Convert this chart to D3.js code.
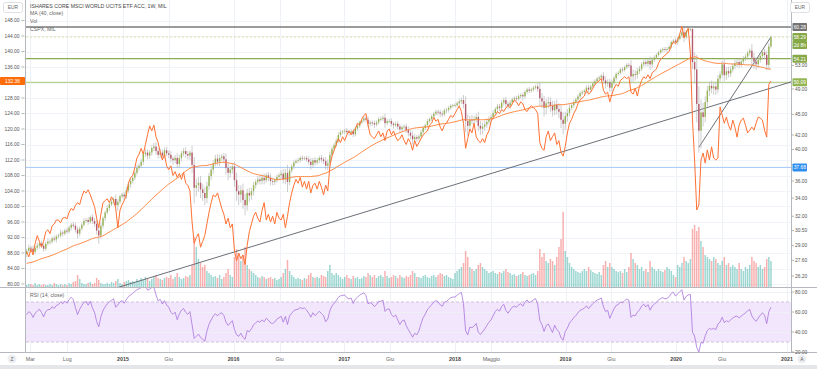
<!DOCTYPE html>
<html><head><meta charset="utf-8">
<script src="https://cdn.jsdelivr.net/npm/d3@7"></script>
<style>
html,body{margin:0;padding:0;background:#fff;}
svg{display:block;font-family:"Liberation Sans",Arial,sans-serif;}
</style></head>
<body><svg id="chart" width="817" height="369"></svg>
<script>
// ---------------- DATA ----------------
const firstWeek = "2014-02-17";
// weekly closes before the visible range (used only for MA(40) / RSI(14) warm-up)
const warmupCloses = [27.2,27.4,27.0, 26.4,26.2,25.9,25.7, 26.0,26.5,26.8,26.9,26.7, 26.8,26.9,26.3,26.1,
  26.4,26.9,27.3,27.2,26.9, 26.7,27.2,27.7,27.9, 27.8,28.1,28.2,28.4, 28.0,27.8,28.2,28.6,28.7, 28.5,28.7,28.6,27.8, 27.6,28.2];
// ISHARES CORE MSCI WORLD UCITS ETF ACC, 1W, MIL — weekly closes (EUR)
const closes = [
  28.5,28.8, 28.7,28.4,28.8,29.0,29.2, 29.0,28.7,29.2,29.4, 29.4,29.7,29.6,29.9, 30.0,30.3,30.2,30.5,30.4, 30.8,31.1,31.0,30.6,
  30.2,30.7,31.1,31.5, 31.6,31.4,31.9,31.5,31.2, 30.5,30.0,31.0,31.8, 32.4,32.9,33.3,33.6, 33.9,33.2,33.6,34.2,34.4,
  34.2,34.9,35.6,36.0, 36.4,37.0,37.6,37.9, 38.4,39.4,39.6,39.2,39.6, 40.2,40.4,39.8,39.3, 39.6,39.2,39.9,39.5, 39.3,38.8,38.6,38.9,38.1,
  38.9,39.5,39.8,39.4, 39.2,39.6,38.0,35.2,35.5, 35.8,35.0,34.6,34.0, 35.4,36.6,37.4,38.2, 38.8,38.4,38.9,39.1,38.7, 37.6,37.0,37.4,37.8,
  36.1,34.8,34.4,34.9, 33.8,33.2,34.6,34.3,34.8, 35.5,35.9,36.2,36.0, 36.4,36.1,36.7,36.4, 36.0,35.9,36.1,36.5,36.7, 36.9,36.2,37.0,35.9,
  37.3,37.8,38.3,38.5, 38.6,38.9,38.8,38.9,38.7, 38.4,38.0,38.6,38.3, 38.6,38.9,38.7,38.5,37.9, 38.2,39.3,40.1,40.6, 41.2,42.0,42.4,42.5,
  42.6,42.4,42.3,42.5,42.1, 42.9,43.3,43.8,44.1, 44.4,44.2,43.6,43.8, 43.7,43.5,43.8,44.3, 44.3,44.5,43.7,44.0,44.0, 43.6,43.4,43.6,43.2,
  42.8,43.1,43.2,42.7,42.3, 41.9,41.4,41.7,41.5, 41.8,42.4,43.0,43.4, 44.0,44.3,44.7,45.1,45.4, 45.3,45.1,45.0,45.6, 45.7,46.0,46.3,46.4,
  46.4,46.7,47.0,47.2,46.6, 44.0,43.3,44.2,44.1, 44.3,44.6,43.3,42.9, 43.2,43.5,43.9,44.3,44.6, 45.2,45.8,46.2,46.0, 46.8,47.2,46.6,46.3,
  46.8,47.3,47.5,47.4,47.8, 48.0,47.8,48.5,48.9, 48.7,48.9,49.2,49.4, 49.0,47.5,47.0,46.0,46.7, 46.9,46.3,45.6,46.5, 45.8,45.4,44.2,43.6,44.7,
  45.2,46.0,46.4,46.9, 47.3,47.8,48.3,48.5, 48.7,49.2,48.9,49.4, 49.9,50.3,50.7,50.9,51.2, 50.4,49.9,50.1,49.2, 50.0,50.8,51.5,51.7,
  52.3,52.2,52.7,53.1,53.0, 51.1,51.5,51.4,52.0, 52.4,53.2,53.6,53.3,53.8, 53.2,54.0,54.4,54.9, 55.4,55.8,56.0,55.9, 56.0,56.4,57.3,57.6,57.3,
  57.9,58.6,59.2,58.3, 59.3,59.8,59.9,53.6, 52.3,46.6,42.6,45.3,44.6, 46.9,48.7,49.5,49.1, 49.4,48.9,50.7,51.4, 53.2,51.3,52.0,51.6,52.3,
  52.9,53.4,53.6,53.1, 53.7,54.2,54.6,55.3,55.7, 54.4,53.7,53.2,54.0, 54.7,55.4,54.9,53.1, 56.5,58.29
];
// upper / lower wick beyond the candle body (EUR)
const wickHi = [
  0.2,0.3, 0.2,0.3,0.2,0.3,0.2, 0.3,0.2,0.2,0.3, 0.2,0.2,0.3,0.2, 0.2,0.3,0.2,0.2,0.3, 0.2,0.2,0.3,0.3, 0.3,0.2,0.2,0.3, 0.2,0.3,0.2,0.3,0.3, 0.4,0.3,0.3,0.2, 0.2,0.3,0.2,0.3, 0.2,0.5,0.3,0.2,0.2,
  0.3,0.4,0.3,0.3, 0.3,0.3,0.4,0.3, 0.4,0.3,0.5,0.4,0.3, 0.4,0.5,0.6,0.4, 0.5,0.4,0.4,0.5, 0.4,0.5,0.3,0.4,0.6, 0.4,0.3,0.4,0.5, 0.4,0.3,0.9,1.0,0.8, 0.7,0.8,0.6,0.7, 0.5,0.4,0.5,0.4, 0.5,0.6,0.4,0.3,0.4, 0.8,0.6,0.5,0.4,
  0.6,0.9,0.7,0.6, 0.8,0.7,0.5,0.6,0.4, 0.4,0.3,0.4,0.4, 0.4,0.5,0.3,0.4, 0.5,0.4,0.3,0.3,0.3, 0.4,0.6,0.5,1.0, 0.3,0.3,0.3,0.2, 0.3,0.2,0.3,0.2,0.3, 0.4,0.5,0.3,0.4, 0.3,0.3,0.4,0.3,0.5, 0.5,0.4,0.3,0.3, 0.3,0.4,0.3,0.2,
  0.3,0.4,0.3,0.3,0.4, 0.3,0.3,0.2,0.3, 0.3,0.4,0.5,0.3, 0.3,0.4,0.3,0.3, 0.4,0.3,0.6,0.3,0.3, 0.4,0.3,0.3,0.4, 0.4,0.3,0.3,0.4,0.5, 0.4,0.6,0.4,0.3, 0.3,0.3,0.3,0.2, 0.3,0.2,0.3,0.3,0.3, 0.3,0.4,0.4,0.3, 0.3,0.3,0.3,0.2,
  0.3,0.3,0.4,0.4,0.8, 1.2,1.0,0.6,0.7, 0.5,0.5,0.8,0.7, 0.6,0.6,0.5,0.4,0.4, 0.4,0.3,0.4,0.4, 0.4,0.4,0.5,0.4, 0.4,0.3,0.3,0.4,0.3, 0.3,0.4,0.3,0.3, 0.4,0.3,0.3,0.3, 0.6,1.1,0.8,0.9,0.7, 0.8,0.7,0.8,0.6, 0.8,0.9,1.0,1.1,0.7,
  0.6,0.5,0.4,0.4, 0.3,0.3,0.3,0.3, 0.3,0.4,0.5,0.3, 0.3,0.3,0.3,0.3,0.3, 0.6,0.7,0.5,0.6, 0.5,0.4,0.3,0.3, 0.3,0.4,0.3,0.3,0.4, 1.0,0.8,0.7,0.6, 0.5,0.4,0.4,0.5,0.4, 0.8,0.5,0.4,0.3, 0.3,0.3,0.3,0.4, 0.4,0.3,0.3,0.3,0.4,
  0.4,0.3,0.3,0.9, 0.4,0.3,0.38,0.1, 1.8,2.6,2.8,2.0,1.5, 0.9,0.8,0.7,0.9, 0.7,0.8,0.6,0.6, 0.6,1.2,0.7,0.8,0.6, 0.5,0.6,0.5,0.6, 0.4,0.5,0.4,0.4,0.4, 1.2,0.9,0.8,0.7, 0.5,0.5,0.6,0.8, 0.6,0.3
];
const wickLo = [
  0.3,0.2, 0.3,0.3,0.2,0.2,0.3, 0.2,0.3,0.2,0.2, 0.3,0.2,0.2,0.3, 0.2,0.2,0.3,0.2,0.2, 0.2,0.3,0.2,0.3, 0.5,0.3,0.2,0.2, 0.2,0.3,0.2,0.3,0.3, 0.4,0.8,0.3,0.3, 0.3,0.2,0.3,0.2, 0.3,0.4,0.6,0.3,0.2,
  0.4,0.3,0.3,0.4, 0.3,0.3,0.3,0.3, 0.3,0.4,0.4,0.5,0.4, 0.4,0.4,0.5,0.5, 0.4,0.5,0.4,0.4, 0.4,0.5,0.6,0.4,0.5, 0.5,0.4,0.4,0.5, 0.5,0.6,1.0,1.8,1.0, 0.8,1.0,0.9,0.8, 0.6,0.5,0.5,0.5, 0.4,0.5,0.6,0.4,0.5, 0.8,0.9,0.6,0.5,
  0.8,1.1,1.2,0.9, 1.0,1.1,0.6,0.7,0.5, 0.5,0.4,0.3,0.4, 0.4,0.5,0.3,0.4, 0.5,0.4,0.4,0.3,0.3, 0.4,0.5,0.6,1.2, 0.4,0.3,0.3,0.2, 0.3,0.3,0.3,0.2,0.3, 0.4,0.6,0.4,0.4, 0.3,0.4,0.4,0.4,0.5, 0.6,0.5,0.3,0.3, 0.3,0.3,0.3,0.3,
  0.4,0.3,0.4,0.3,0.4, 0.3,0.3,0.3,0.2, 0.3,0.4,0.5,0.4, 0.4,0.5,0.3,0.3, 0.3,0.3,0.7,0.3,0.3, 0.4,0.5,0.3,0.4, 0.5,0.3,0.3,0.4,0.5, 0.5,0.7,0.4,0.4, 0.3,0.3,0.3,0.3, 0.3,0.3,0.3,0.4,0.3, 0.4,0.5,0.4,0.3, 0.4,0.4,0.3,0.3,
  0.3,0.3,0.3,0.4,0.7, 1.6,1.4,0.7,0.6, 0.6,0.5,0.8,0.9, 0.8,0.6,0.5,0.4,0.5, 0.4,0.4,0.4,0.5, 0.5,0.4,0.6,0.5, 0.4,0.3,0.4,0.4,0.3, 0.4,0.6,0.3,0.3, 0.4,0.3,0.3,0.3, 0.5,1.2,1.0,1.3,1.0, 0.8,1.0,0.9,0.7, 0.8,1.0,1.2,1.5,0.9,
  0.8,0.5,0.4,0.4, 0.3,0.3,0.4,0.3, 0.4,0.4,0.5,0.4, 0.3,0.3,0.3,0.3,0.3, 0.6,0.8,0.6,0.7, 0.6,0.4,0.4,0.3, 0.3,0.4,0.3,0.3,0.4, 1.2,0.9,1.0,0.7, 0.5,0.4,0.4,0.5,0.5, 1.0,0.6,0.4,0.3, 0.3,0.3,0.4,0.4, 0.6,0.3,0.3,0.3,0.4,
  0.5,0.3,0.4,1.0, 0.5,0.3,0.4,1.2, 2.4,2.8,3.0,2.5,1.4, 0.8,0.7,0.9,0.8, 1.0,0.9,0.6,0.5, 0.5,1.0,0.8,0.7,0.6, 0.5,0.6,0.7,0.6, 0.4,0.5,0.4,0.5,0.5, 1.5,1.3,1.0,0.7, 0.5,0.6,0.7,0.9, 0.8,0.4
];
// Vol (thousand shares, weekly)
const volumes = [
  2,3, 3,2,4,2,3, 2,3,2,2, 3,2,4,3, 2,3,2,3,2, 4,3,5,6, 12,8,4,3, 3,4,5,3,4, 9,7,4,3, 3,4,3,5, 4,6,8,4,3,
  5,6,7,5, 6,5,8,6, 9,7,10,8,6, 8,10,12,9, 8,7,9,10, 9,12,8,10,14, 10,8,9,11, 10,12,22,50,40, 28,24,20,22, 16,14,12,10, 11,9,12,8,10, 14,18,12,10,
  30,38,34,26, 32,40,22,18,16, 14,12,10,9, 11,10,8,9, 10,8,9,7,8, 10,14,18,27, 16,12,10,8, 9,8,7,9,8, 12,14,10,9, 10,9,12,11,10, 16,22,14,12, 14,12,10,8,
  10,12,9,8,11, 9,10,8,9, 11,10,14,12, 10,12,9,11, 12,10,16,11,9, 10,12,11,9, 12,10,9,11,10, 12,16,14,10, 10,9,11,12, 10,9,11,12,10, 12,14,13,11, 12,10,9,8,
  14,16,18,20,24, 36,30,20,18, 16,18,22,24, 20,18,16,14,15, 16,14,13,15, 14,16,18,15, 14,12,13,11,12, 13,15,12,11, 12,13,14,12, 16,38,30,34,26, 24,28,26,22, 30,40,48,75,36,
  30,24,20,18, 16,15,14,16, 18,16,20,17, 15,14,13,15,12, 22,26,20,24, 20,18,16,15, 16,14,18,15,20, 34,28,24,22, 18,20,16,18,15, 26,20,18,16, 18,16,15,17, 20,18,16,12,10,
  22,20,24,30, 26,24,28,58, 62,56,60,46,40, 32,30,28,26, 30,28,24,22, 26,30,22,24,20, 22,20,18,24, 18,16,20,18,22, 30,26,24,20, 22,18,20,28, 30,26
];
// CSPX, MIL — weekly closes (left scale)
const cspx = [
  88.3,87.0, 89.0,87.5,90.5,92.5,91.0, 89.5,91.0,93.5,94.0, 93.0,95.0,95.5,96.5, 96.5,95.8,97.0,97.2,96.8, 98.5,99.5,99.0,100.3,
  101.0,100.5,102.5,104.0, 103.5,104.3,103.0,101.5,100.0, 97.0,94.5,98.0,101.0, 101.5,102.0,101.0,102.5, 101.5,99.5,94.5,99.0,100.5,
  101.5,103.0,106.0,107.5, 108.0,110.0,112.5,113.5, 115.0,113.5,116.0,118.5,120.8, 119.5,121.0,118.0,116.5, 114.0,112.0,113.5,110.5,
  109.5,110.5,108.0,109.0,107.5, 108.5,107.0,108.8,106.0, 105.5,104.0,96.0,90.5,92.0, 93.0,89.5,91.0,92.5, 95.5,98.5,101.0,103.0,
  102.5,103.5,101.5,99.5,98.0, 95.5,97.0,94.5,95.5,
  88.5,86.0,88.0,86.5, 87.5,85.0,90.0,93.5,95.5, 97.5,98.5,97.0,96.0, 99.0,101.0,96.5,98.0, 96.0,97.5,95.5,98.5,97.0, 96.5,98.0,94.5,97.5,
  101.0,103.5,105.5,107.0, 106.0,107.5,105.0,106.5,104.5, 106.5,103.5,105.5,106.0, 104.5,106.5,105.0,103.0,105.5, 104.0,110.5,113.0,114.5, 116.0,117.5,116.5,118.0,
  117.0,118.5,119.5,118.5,119.5, 120.0,121.5,121.0,122.5, 123.5,124.0,121.0,118.5, 118.0,117.5,118.5,119.5, 118.0,119.0,117.0,119.5,120.0, 118.5,119.5,118.0,117.0,
  117.5,118.5,117.0,116.0,117.5, 116.5,114.5,117.0,115.5, 116.5,117.5,118.5,119.0, 119.5,121.0,121.5,123.0,122.0, 122.5,120.5,119.5,121.0, 121.5,122.5,123.5,123.0,
  124.0,125.0,126.0,124.5,121.5, 115.0,117.5,120.0,119.0, 121.5,118.0,117.0,116.5, 117.5,116.5,118.5,119.5,122.0, 123.0,123.5,124.5,124.0, 125.0,124.5,125.5,126.0,
  125.5,126.5,127.5,127.0,126.0, 127.0,126.5,125.0,124.5, 125.5,126.0,125.5,125.0, 124.0,116.5,115.0,114.5,118.0, 119.5,117.0,118.0,119.0, 116.0,117.0,114.0,113.0,115.5,
  119.0,121.5,122.5,124.0, 125.0,126.5,127.5,128.0, 128.5,130.0,129.0,129.5, 130.5,131.5,132.0,132.5,133.0, 130.0,129.0,129.5,127.0, 129.0,130.5,131.5,131.0,
  132.5,133.0,133.5,133.0,133.5, 129.5,129.0,130.5,128.5, 131.0,132.5,133.5,133.0,134.0, 133.0,134.5,135.0,135.5, 137.0,138.0,138.5,139.0, 139.5,140.0,141.5,142.5,142.0,
  143.0,144.5,146.5,143.5, 145.0,146.0,139.5,122.3, 112.0,99.1,100.4,112.0,113.8, 111.2,114.6,112.0,115.4, 112.5,112.0,112.5,125.7, 123.6,121.5,123.1,121.0,119.7,
  122.3,120.5,117.9,121.0, 122.3,122.8,121.0,119.0,119.7, 120.5,119.7,121.5,123.1, 122.8,122.3,119.7,117.9, 131.5,132.36
];
// axes
const leftTicks = [148,144,140,136,132,128,124,120,116,112,108,104,100,96,92,88,84,80];
const leftHidden = [132];
const rightTicks = [53,49,45,42,40,36,34,32,30.5,29,27.6,26.2];
const rsiTicks = [80,60,40,20];
const timeTicks = [["2014-03-01","Mar",0],["2014-07-01","Lug",0],["2015-01-01","2015",1],["2015-06-01","Giu",0],
  ["2016-01-01","2016",1],["2016-06-01","Giu",0],["2017-01-01","2017",1],["2017-06-01","Giu",0],["2018-01-01","2018",1],
  ["2018-05-01","Maggio",0],["2019-01-01","2019",1],["2019-06-01","Giu",0],["2020-01-01","2020",1],["2020-06-01","Giu",0],["2021-01-01","2021",1]];
// drawings
const levelValues = [60.28, 54.21, 50.09, 37.68];
const trendLong = [["2015-01-12", 25.43], ["2020-11-09", 49.14]];
const trendShort = [["2020-03-16", 40.3], ["2020-11-09", 58.3]];
const lastPrice = 58.29, lastCspx = 132.36, countdown = "2d 8h";
const legendLines = ["ISHARES CORE MSCI WORLD UCITS ETF ACC, 1W, MIL", "MA (40, close)", "Vol", "CSPX, MIL"];

// ---------------- CHECKS ----------------
[wickHi, wickLo, volumes, cspx].forEach((a, k) => { if (a.length !== closes.length) throw new Error("length mismatch " + k + ": " + a.length + " vs " + closes.length); });

// ---------------- LAYOUT ----------------
const L = 26, R = 791, mainTop = 0, mainBot = 287, rsiTop = 288, rsiBot = 352;
const FS = 4.9;
const svg = d3.select("#chart");
const parse = d3.utcParse("%Y-%m-%d");
const t0 = parse(firstWeek);
const dates = closes.map((_, i) => d3.utcDay.offset(t0, 7 * i));

const x = d3.scaleUtc().domain([parse("2015-01-01"), parse("2021-01-01")]).range([123, 787]);
const yR = d3.scaleLog().domain([26.2, 60.28]).range([276, 27]);
const yL = d3.scaleLinear().domain([80, 148]).range([284, 20.5]);
const yV = d3.scaleLinear().domain([0, d3.max(volumes)]).range([mainBot, mainBot - 75]);
const yRsi = d3.scaleLinear().domain([20, 80]).range([352, 292]);

// indicators
const all = warmupCloses.concat(closes);
const W = warmupCloses.length;
const ma = closes.map((_, i) => { const k = W + i; return k >= 39 ? d3.mean(all.slice(k - 39, k + 1)) : null; });
const rsiAll = []; let ag = 0, al = 0;
for (let k = 1; k < all.length; k++) {
  const ch = all[k] - all[k - 1], g = Math.max(ch, 0), l = Math.max(-ch, 0);
  if (k <= 14) { ag += g / 14; al += l / 14; } else { ag = (ag * 13 + g) / 14; al = (al * 13 + l) / 14; }
  if (k >= 14) rsiAll[k] = al === 0 ? 100 : 100 - 100 / (1 + ag / al);
}
const rsi = closes.map((_, i) => rsiAll[W + i]);
const opens = closes.map((c, i) => i === 0 ? warmupCloses[W - 1] : closes[i - 1]);

// defs / clips
const defs = svg.append("defs");
defs.append("clipPath").attr("id", "cMain").append("rect").attr("x", L).attr("y", mainTop).attr("width", R - L).attr("height", mainBot - mainTop);
defs.append("clipPath").attr("id", "cRsi").append("rect").attr("x", L).attr("y", rsiTop).attr("width", R - L).attr("height", rsiBot - rsiTop);

svg.append("rect").attr("width", 817).attr("height", 369).attr("fill", "#fff");

// grid
const grid = svg.append("g");
timeTicks.forEach(t => {
  const xx = Math.round(x(parse(t[0]))) + 0.5;
  grid.append("line").attr("x1", xx).attr("x2", xx).attr("y1", 0).attr("y2", rsiBot).attr("stroke", "#eef1f6").attr("stroke-width", 1);
});
leftTicks.forEach(v => {
  const yy = Math.round(yL(v)) + 0.5;
  grid.append("line").attr("x1", L).attr("x2", R).attr("y1", yy).attr("y2", yy).attr("stroke", "#f0f3f8");
});

// ---- main pane
const main = svg.append("g").attr("clip-path", "url(#cMain)");
const bw = 1.4;
// volume
main.append("g").selectAll("rect").data(closes).join("rect")
  .attr("x", (d, i) => x(dates[i]) - 0.75).attr("width", 1.5)
  .attr("y", (d, i) => yV(volumes[i])).attr("height", (d, i) => mainBot - yV(volumes[i]))
  .attr("fill", (d, i) => d >= opens[i] ? "rgba(38,166,154,0.45)" : "rgba(239,83,80,0.45)");

// horizontal levels
const levelStroke = {"60.28": ["#7a7a7a", 1.6], "54.21": ["#8dab55", 1.2], "50.09": ["#bcd291", 1.3], "37.68": ["#a3c8f7", 1]};
levelValues.forEach(v => {
  const yy = yR(v), s = levelStroke[v.toFixed(2)];
  main.append("line").attr("x1", L).attr("x2", R).attr("y1", yy).attr("y2", yy).attr("stroke", s[0]).attr("stroke-width", s[1]);
});
// last price line
main.append("line").attr("x1", L).attr("x2", R).attr("y1", yR(lastPrice)).attr("y2", yR(lastPrice))
  .attr("stroke", "#d6d79a").attr("stroke-width", 0.8).attr("stroke-dasharray", "2,2");

// trend lines
function trend(anchors, extend) {
  const p = anchors.map(a => [x(parse(a[0])), yR(a[1])]);
  const s = (p[1][1] - p[0][1]) / (p[1][0] - p[0][0]);
  let a = p[0], b = p[1];
  if (extend) { a = [L - 5, p[0][1] + (L - 5 - p[0][0]) * s]; b = [R, p[0][1] + (R - p[0][0]) * s]; }
  main.append("line").attr("x1", a[0]).attr("y1", a[1]).attr("x2", b[0]).attr("y2", b[1])
    .attr("stroke", "#5a5f66").attr("stroke-width", 0.9);
}
trend(trendLong, true);
trend(trendShort, false);

// candles
const cg = main.append("g");
cg.selectAll("line").data(closes).join("line")
  .attr("x1", (d, i) => x(dates[i])).attr("x2", (d, i) => x(dates[i]))
  .attr("y1", (d, i) => yR(Math.max(d, opens[i]) + wickHi[i]))
  .attr("y2", (d, i) => yR(Math.min(d, opens[i]) - wickLo[i]))
  .attr("stroke", "#b8b8b8").attr("stroke-width", 0.7);
cg.selectAll("rect").data(closes).join("rect")
  .attr("x", (d, i) => x(dates[i]) - bw / 2).attr("width", bw)
  .attr("y", (d, i) => yR(Math.max(d, opens[i])))
  .attr("height", (d, i) => Math.max(0.8, Math.abs(yR(d) - yR(opens[i]))))
  .attr("fill", (d, i) => d >= opens[i] ? "#95b553" : "#b65a6d");

// MA(40)
main.append("path").datum(closes.map((d, i) => [x(dates[i]), ma[i]]).filter(p => p[1] != null))
  .attr("d", d3.line().x(p => p[0]).y(p => yR(p[1])))
  .attr("fill", "none").attr("stroke", "#ff8a46").attr("stroke-width", 1);
// CSPX
main.append("path").datum(cspx.map((v, i) => [x(dates[i]), v]))
  .attr("d", d3.line().x(p => p[0]).y(p => yL(p[1])))
  .attr("fill", "none").attr("stroke", "#ff7132").attr("stroke-width", 1);

// legend
const lg = svg.append("g").attr("font-size", 5.2);
legendLines.forEach((t, i) => lg.append("text").attr("x", 30).attr("y", [7.6, 15.2, 22.6, 30.6][i]).attr("fill", i === 0 ? "#444" : "#666").text(t));

// ---- RSI pane
const rg = svg.append("g").attr("clip-path", "url(#cRsi)");
rg.append("rect").attr("x", L).attr("width", R - L).attr("y", yRsi(70)).attr("height", yRsi(30) - yRsi(70)).attr("fill", "#f2e6fd");
rsiTicks.forEach(v => rg.append("line").attr("x1", L).attr("x2", R).attr("y1", yRsi(v) + 0.5).attr("y2", yRsi(v) + 0.5).attr("stroke", "#eef0f5"));
[70, 30].forEach(v => rg.append("line").attr("x1", L).attr("x2", R).attr("y1", yRsi(v)).attr("y2", yRsi(v))
  .attr("stroke", "#c3b4d4").attr("stroke-width", 0.8).attr("stroke-dasharray", "3,2"));
rg.append("path").datum(rsi.map((v, i) => [x(dates[i]), v]).filter(p => p[1] != null))
  .attr("d", d3.line().x(p => p[0]).y(p => yRsi(p[1])))
  .attr("fill", "none").attr("stroke", "#a874dc").attr("stroke-width", 0.8);
svg.append("text").attr("x", 30).attr("y", 296.5).attr("font-size", 5.2).attr("fill", "#666").text("RSI (14, close)");

// ---- borders
svg.append("line").attr("x1", 0).attr("x2", 817).attr("y1", mainBot + 0.5).attr("y2", mainBot + 0.5).attr("stroke", "#b5b8be");
svg.append("line").attr("x1", 0).attr("x2", 817).attr("y1", rsiBot + 0.5).attr("y2", rsiBot + 0.5).attr("stroke", "#b5b8be");
svg.append("line").attr("x1", L - 0.5).attr("x2", L - 0.5).attr("y1", 0).attr("y2", rsiBot).attr("stroke", "#b5b8be");
svg.append("line").attr("x1", R + 0.5).attr("x2", R + 0.5).attr("y1", 0).attr("y2", rsiBot).attr("stroke", "#b5b8be");
svg.append("rect").attr("x", 0).attr("y", 365).attr("width", 817).attr("height", 4).attr("fill", "#e4e6ea");

// ---- left axis
const la = svg.append("g").attr("font-size", FS).attr("fill", "#555");
leftTicks.filter(v => !leftHidden.includes(v)).forEach(v => {
  const yy = yL(v);
  la.append("text").attr("x", 19.5).attr("y", yy + 1.7).attr("text-anchor", "end").text(v.toFixed(2));
  la.append("line").attr("x1", 21.5).attr("x2", 24.5).attr("y1", yy).attr("y2", yy).attr("stroke", "#888").attr("stroke-width", 0.6);
});
// ---- right axis
const ra = svg.append("g").attr("font-size", FS).attr("fill", "#555");
rightTicks.forEach(v => {
  const yy = yR(v);
  ra.append("text").attr("x", 795).attr("y", yy + 1.7).text(v.toFixed(2));
  ra.append("line").attr("x1", R + 0.5).attr("x2", R + 3).attr("y1", yy).attr("y2", yy).attr("stroke", "#888").attr("stroke-width", 0.6);
});
rsiTicks.forEach(v => {
  const yy = yRsi(v);
  ra.append("text").attr("x", 795).attr("y", yy + 1.7).text(v.toFixed(2));
  ra.append("line").attr("x1", R + 0.5).attr("x2", R + 3).attr("y1", yy).attr("y2", yy).attr("stroke", "#888").attr("stroke-width", 0.6);
});

// tags
function tag(xx, yc, w, fill, txt, tfill) {
  svg.append("rect").attr("x", xx).attr("y", yc - 4).attr("width", w).attr("height", 8).attr("fill", fill).attr("rx", 0.8);
  svg.append("text").attr("x", xx + w / 2).attr("y", yc + 1.8).attr("text-anchor", "middle").attr("font-size", FS).attr("fill", tfill).text(txt);
}
const tagFill = {"60.28": "#747474", "54.21": "#86a846", "50.09": "#93b552", "37.68": "#2f8ff0"};
levelValues.forEach(v => tag(792.5, yR(v), 14.5, tagFill[v.toFixed(2)], v.toFixed(2), "#fff"));
tag(792.5, yR(lastPrice), 14.5, "#86a846", lastPrice.toFixed(2), "#fff");
tag(792.5, yR(lastPrice) + 8, 14.5, "#86a846", countdown, "#fff");
tag(0, yL(lastCspx), 25, "#ff6d0a", lastCspx.toFixed(2), "#fff");

// currency boxes
[[3, 2], [790, 2]].forEach(p => {
  svg.append("rect").attr("x", p[0] + 0.5).attr("y", p[1] + 0.5).attr("width", 19).attr("height", 10).attr("rx", 2)
    .attr("fill", "#fff").attr("stroke", "#d0d3d9").attr("stroke-width", 0.7);
  svg.append("text").attr("x", p[0] + 10).attr("y", p[1] + 7.3).attr("text-anchor", "middle").attr("font-size", FS).attr("fill", "#666").text("EUR");
});

// ---- time axis
const ta = svg.append("g").attr("font-size", 5.3);
timeTicks.forEach(t => {
  ta.append("text").attr("x", x(parse(t[0]))).attr("y", 361).attr("text-anchor", "middle")
    .attr("font-weight", t[2] ? 700 : 400).attr("fill", t[2] ? "#444" : "#666").text(t[1]);
});
[[12, "Z"], [802, "A"]].forEach(p => {
  svg.append("circle").attr("cx", p[0]).attr("cy", 359).attr("r", 4.5).attr("fill", "#eceef2");
  svg.append("text").attr("x", p[0]).attr("y", 360.8).attr("text-anchor", "middle").attr("font-size", 5).attr("fill", "#666").text(p[1]);
});
</script>
</body></html>
